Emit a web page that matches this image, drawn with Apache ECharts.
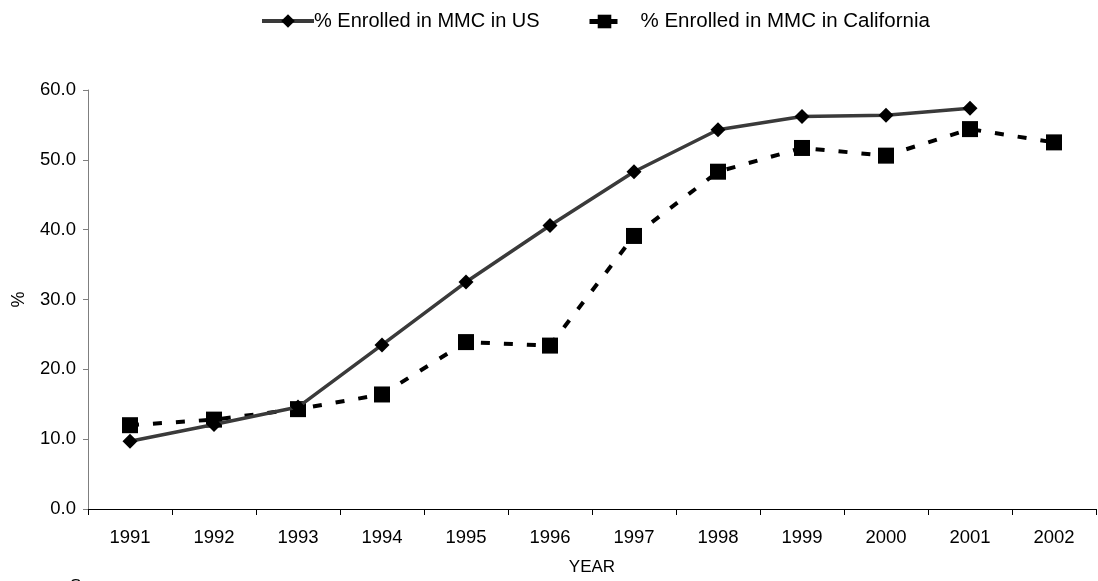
<!DOCTYPE html>
<html>
<head>
<meta charset="utf-8">
<script src="https://cdn.jsdelivr.net/npm/echarts@6/dist/echarts.min.js"></script>
<style>
  html, body { margin: 0; padding: 0; background: #fff; }
  #chart { width: 1098px; height: 581px; }
</style>
</head>
<body>
<div id="chart"></div>
<script>
const years = ['1991', '1992', '1993', '1994', '1995', '1996', '1997', '1998', '1999', '2000', '2001', '2002'];
const usPct = [9.7, 12.1, 14.6, 23.5, 32.5, 40.6, 48.3, 54.3, 56.2, 56.4, 57.4, null];
const caPct = [12.0, 12.8, 14.3, 16.4, 23.9, 23.4, 39.1, 48.3, 51.7, 50.6, 54.4, 52.5];
const usName = '% Enrolled in MMC in US';
const caName = '% Enrolled in MMC in California';

const font = 'Liberation Sans, Arial, sans-serif';
const chart = echarts.init(document.getElementById('chart'));

chart.setOption({
  animation: false,
  backgroundColor: '#fff',
  textStyle: { fontFamily: font },
  legend: [
    {
      data: [usName],
      left: 255,
      top: 6,
      itemWidth: 52,
      itemHeight: 17,
      itemGap: 0,
      lineStyle: { width: 4, color: '#3a3a3a' },
      textStyle: { fontSize: 20, color: '#000', fontFamily: font, padding: [0, 0, 0, -5] },
    },
    {
      data: [caName],
      left: 582,
      top: 6,
      itemWidth: 30,
      itemHeight: 17,
      lineStyle: { width: 5, type: [9, 10] },
      textStyle: { fontSize: 20.5, color: '#000', fontFamily: font, padding: [0, 0, 0, 16] },
    },
  ],
  grid: { left: 88, right: 2, top: 90, bottom: 71, containLabel: false },
  xAxis: {
    type: 'category',
    data: years,
    boundaryGap: true,
    name: 'YEAR',
    nameLocation: 'middle',
    nameGap: 50,
    nameTextStyle: { fontSize: 17, color: '#000', fontFamily: font },
    axisLine: { lineStyle: { color: '#000', width: 1 } },
    axisTick: { show: true, alignWithLabel: false, length: 6, lineStyle: { color: '#000' } },
    axisLabel: { fontSize: 18.5, color: '#000', margin: 19, fontFamily: font },
  },
  yAxis: {
    type: 'value',
    min: 0,
    max: 60,
    interval: 10,
    name: '%',
    nameLocation: 'middle',
    nameGap: 60,
    nameRotate: 90,
    nameTextStyle: { fontSize: 18, color: '#000', fontFamily: font },
    axisLine: { show: true, lineStyle: { color: '#7f7f7f', width: 1 } },
    axisTick: { show: true, length: 5, lineStyle: { color: '#7f7f7f' } },
    splitLine: { show: false },
    axisLabel: {
      fontSize: 18.5,
      color: '#000',
      margin: 12,
      fontFamily: font,
      formatter: (v) => v.toFixed(1),
    },
  },
  series: [
    {
      name: usName,
      type: 'line',
      data: usPct,
      symbol: 'diamond',
      symbolSize: 15,
      itemStyle: { color: '#000' },
      lineStyle: { color: '#3a3a3a', width: 3.5 },
      z: 3,
    },
    {
      name: caName,
      type: 'line',
      data: caPct,
      symbol: 'rect',
      symbolSize: 16,
      itemStyle: { color: '#000' },
      lineStyle: { color: '#000', width: 4, type: [9, 14] },
      z: 2,
    },
  ],
  graphic: [
    {
      type: 'text',
      left: 70,
      top: 578,
      style: { text: 'Source:', fontSize: 17, fill: '#000', fontFamily: font },
    },
  ],
});
</script>
</body>
</html>
